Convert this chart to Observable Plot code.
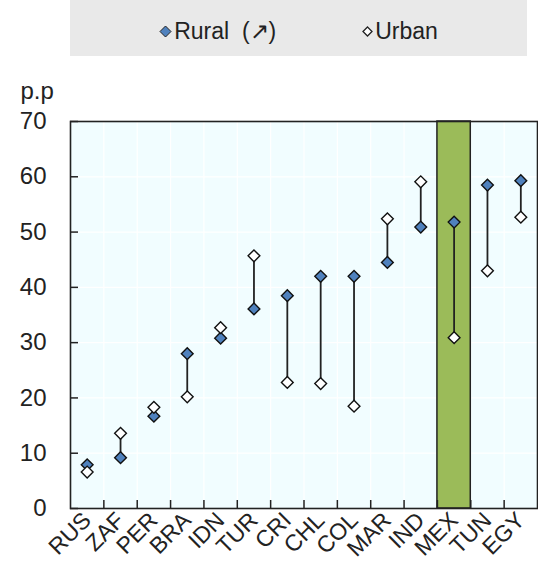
<!DOCTYPE html>
<html><head><meta charset="utf-8">
<script src="https://cdn.jsdelivr.net/npm/d3@7"></script>
<script src="https://cdn.jsdelivr.net/npm/@observablehq/plot@0.6"></script>
<style>
body{margin:0;background:#fff;font-family:"Liberation Sans",Arial,sans-serif;}
#legend{position:absolute;left:70px;top:0;width:457px;height:56px;box-sizing:border-box;padding-top:6px;background:#e9e9e9;display:flex;align-items:center;justify-content:center;font-size:23px;color:#222;}
#legend .item{display:flex;align-items:center;}
#legend svg{margin-right:2px;}
#chart{position:absolute;left:0;top:56px;}
</style></head><body>
<div id="legend">
  <div class="item" style="margin-right:86px"><svg width="13" height="13" viewBox="0 0 13 13"><path d="M6.5,1L12,6.5L6.5,12L1,6.5Z" fill="#4f81bd" stroke="#222" stroke-width="1"/></svg><span>Rural&nbsp;&nbsp;(↗)</span></div>
  <div class="item"><svg width="11" height="11" viewBox="0 0 11 11"><path d="M5.5,1L10,5.5L5.5,10L1,5.5Z" fill="#fff" stroke="#222" stroke-width="1.3"/></svg><span>Urban</span></div>
</div>
<div id="chart"></div>
<script>
const countries = ["RUS","ZAF","PER","BRA","IDN","TUR","CRI","CHL","COL","MAR","IND","MEX","TUN","EGY"];
const rural = [7.9, 9.2, 16.7, 28.0, 30.8, 36.1, 38.5, 42.0, 42.0, 44.5, 50.9, 51.8, 58.5, 59.3];
const urban = [6.6, 13.6, 18.3, 20.2, 32.7, 45.7, 22.8, 22.6, 18.5, 52.4, 59.1, 30.9, 43.0, 52.7];
const highlight = "MEX";
const yTicks = [0, 10, 20, 30, 40, 50, 60, 70];

const data = countries.map((c, i) => ({c, i, rural: rural[i], urban: urban[i]}));
const boundaries = countries.slice(1).map((c, i) => i + 0.5);
const font = '"Liberation Sans",Arial,sans-serif';

const chart = Plot.plot({
  width: 538, height: 528,
  marginLeft: 70, marginRight: 1, marginTop: 65, marginBottom: 76,
  x: {type: "linear", domain: [-0.5, countries.length - 0.5], axis: null},
  y: {domain: [0, d3.max(yTicks)], axis: null},
  style: {fontFamily: font, fontSize: "24px", color: "#222", background: "transparent", overflow: "visible"},
  marks: [
    Plot.frame({fill: "#f1fdff"}),
    Plot.ruleY(yTicks.slice(1, -1), {stroke: "white", strokeWidth: 1.2}),
    Plot.ruleX(boundaries, {stroke: "white", strokeWidth: 1.2}),
    Plot.rectY(data.filter(d => d.c === highlight), {x1: d => d.i - 0.5, x2: d => d.i + 0.5, y1: 0, y2: d3.max(yTicks), fill: "#9bbb59", stroke: "#222", strokeWidth: 1.5}),
    Plot.axisY({ticks: yTicks, tickSize: 0, tickPadding: 24, fontSize: 24, label: null}),
    Plot.axisY({ticks: yTicks, tickSize: -8, text: null, label: null, stroke: "#222", strokeWidth: 1.5}),
    Plot.axisX({ticks: data.map(d => d.i), tickFormat: i => countries[i], tickSize: 0, tickRotate: -45, tickPadding: 8, fontSize: 23, label: null}),
    Plot.axisX({ticks: boundaries, tickSize: -8, text: null, label: null, stroke: "#222", strokeWidth: 1.5}),
    Plot.ruleX(data, {x: "i", y1: "rural", y2: "urban", stroke: "#222", strokeWidth: 1.8}),
    Plot.dot(data, {x: "i", y: "rural", symbol: "diamond2", r: 5.3, fill: "#4f81bd", stroke: "#111", strokeWidth: 1.4}),
    Plot.dot(data, {x: "i", y: "urban", symbol: "diamond2", r: 5.3, fill: "white", stroke: "#111", strokeWidth: 1.4}),
    Plot.frame({stroke: "#222", strokeWidth: 1.6}),
    Plot.text(["p.p"], {frameAnchor: "top-left", dx: -50, dy: -40, textAnchor: "start", fontSize: 24})
  ]
});
document.getElementById("chart").appendChild(chart);
</script>
</body></html>
